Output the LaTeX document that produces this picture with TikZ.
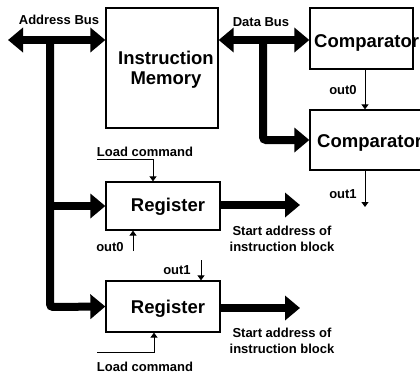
\documentclass[tikz,border=0pt]{standalone}
\usepackage{fontspec}
\setmainfont{Liberation Sans}
\usetikzlibrary{arrows.meta}
\begin{document}
\begin{tikzpicture}[x=1pt,y=-1pt,
  box/.style={draw,line width=1.3pt,inner sep=0pt},
  big/.style={font=\fontsize{18.5}{20}\selectfont\bfseries,align=center,inner sep=0pt},
  small/.style={font=\fontsize{13}{16}\selectfont\bfseries,align=center,inner sep=0pt},
  bus/.style={line width=8pt,rounded corners=3pt,-{Triangle[length=15pt,width=24pt]}},
  dbus/.style={line width=8pt,{Triangle[length=15pt,width=24pt]}-{Triangle[length=15pt,width=24pt]}},
  sig/.style={line width=1pt,-{Triangle[length=5pt,width=7pt]}}]
\useasboundingbox (0,0) rectangle (420,375);
\clip (0,0) rectangle (420,375);

% boxes
\node[box,minimum width=112pt,minimum height=120pt] (im) at (162,68) {};
\node[box,minimum width=103pt,minimum height=61pt] (c1) at (361.5,38.5) {};
\node[box,minimum width=130pt,minimum height=60pt] (c2) at (375,140) {};
\node[box,minimum width=114pt,minimum height=48pt] (r1) at (163,206) {};
\node[box,minimum width=114pt,minimum height=51pt] (r2) at (163,306.5) {};

% box texts
\node[big] (imt) at (166,70) {Instruction\\Memory};
\node[big,anchor=west] (c1t) at (314,43) {Comparator};
\node[big,anchor=west] (c2t) at (317,143) {Comparator};
\node[big] (r1t) at (168,207) {Register};
\node[big] (r2t) at (168,309) {Register};

% labels
\node[small] (abl) at (59,20) {Address Bus};
\node[small] (dbl) at (261,22) {Data Bus};
\node[small] (co0) at (343,90) {out0};
\node[small] (co1) at (343,194) {out1};
\node[small] (lct) at (145,152) {Load command};
\node[small] (lcb) at (145,367) {Load command};
\node[small] (ro0) at (110,247) {out0};
\node[small] (ro1) at (177,270) {out1};
\node[small] (sa1) at (282,238.5) {Start address of\\instruction block};
\node[small] (sa2) at (282,341) {Start address of\\instruction block};

% address bus
\coordinate (abL) at (8,40);
\coordinate (abJ) at (50,40);
\coordinate (abB) at (50,307);
\draw[dbus] (abL) -- (im.west |- abL);
\draw[bus] (abJ) -- (abB) -- (r2.west);
\draw[bus] (abJ |- r1.west) -- (r1.west);

% data bus
\coordinate (dbJ) at (263,40);
\draw[dbus] (im.east |- dbJ) -- (c1.west |- dbJ);
\draw[bus] (dbJ) -- (dbJ |- c2.west) -- (c2.west);

% outputs of registers
\coordinate (s1) at (300,205);
\coordinate (s2) at (300,308);
\draw[bus] (r1.east |- s1) -- (s1);
\draw[bus] (r2.east |- s2) -- (s2);

% comparator signals
\draw[sig] ([xshift=3.5pt]c1.south) -- ([xshift=3.5pt]c1.south |- c2.north);
\coordinate (o1e) at (365,207);
\draw[sig] (o1e |- c2.south) -- (o1e);

% register signals
\coordinate (lt) at (97,159);
\draw[sig] (lt) -| ([xshift=-10pt]r1.north);
\coordinate (lb) at (97,352);
\draw[sig] (lb) -| ([xshift=-9pt]r2.south);
\coordinate (o0s) at (133,251);
\draw[sig] (o0s) -- (o0s |- r1.south);
\coordinate (o1s) at (201,260);
\draw[sig] (o1s) -- (o1s |- r2.north);
\end{tikzpicture}
\end{document}
